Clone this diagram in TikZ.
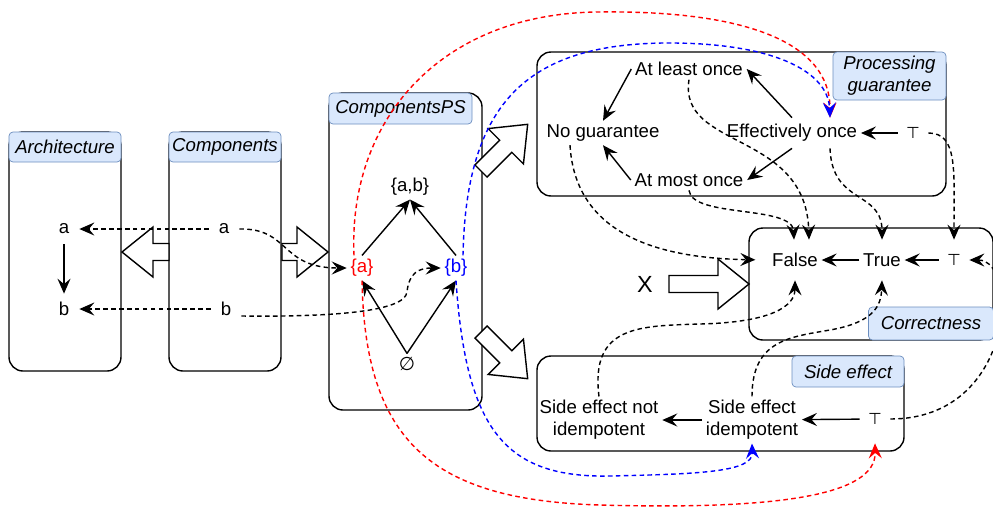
\documentclass[tikz,border=0pt]{standalone}
\usepackage{fontspec}
\setmainfont{Liberation Sans}
\newfontfamily\symfont{DejaVu Sans}
\usetikzlibrary{arrows.meta}

\definecolor{titlefill}{HTML}{DAE8FC}
\definecolor{titleline}{HTML}{6C8EBF}
\newcommand{\topsym}{{\symfont\fontsize{9}{10}\selectfont ⊤}}

\begin{document}
\begin{tikzpicture}[x=0.2mm, y=-0.2mm,
            lbl/.style={inner sep=2pt, align=center, font=\fontsize{10.6}{12.5}\selectfont},
            topnode/.style={lbl, minimum width=6mm},
            titlebox/.style={draw=titleline, fill=titlefill, rounded corners=0.8mm, inner sep=0pt, align=center, font=\fontsize{10.6}{12.5}\selectfont\itshape},
            container/.style={draw, rounded corners=2.8mm, line width=0.8pt},
            arr/.style={-{Stealth[length=3mm, width=2.6mm, inset=1.1mm]}, line width=0.8pt},
            dasharr/.style={arr, dash pattern=on 2.6pt off 1.9pt},
            pics/bigarrow/.style={code={
                \draw[line width=0.8pt, fill=white] (0,-8.5) -- (#1,-8.5) -- (#1,-25) -- (#1+31,0) -- (#1,25) -- (#1,8.5) -- (0,8.5) -- cycle;
            }},
        ]
        \useasboundingbox (0,0) rectangle (993,507);

        %Boxes
        \draw[container] (9,132) rectangle (121,371);
        \draw[container] (169,132) rectangle (281,371);
        \draw[container] (329,93) rectangle (482,410);
        \draw[container] (537,52) rectangle (946,196);
        \draw[container] (749,228) rectangle (993,340);
        \draw[container] (537,356) rectangle (904,451);

        %Big arrows
        \pic[rotate=180] at (169,252) {bigarrow=16};
        \pic at (282,252) {bigarrow=15};
        \pic[rotate=45] at (481,171) {bigarrow=35};
        \pic[rotate=-45] at (481,332) {bigarrow=35};
        \pic at (669,284) {bigarrow=49};

        %Titles
        \node[titlebox, minimum width=22.4mm, minimum height=6mm] (archtitle) at (65,147) {Architecture};
        \node[titlebox, minimum width=22.4mm, minimum height=6mm] (comptitle) at (225,147) {Components};
        \node[titlebox, minimum width=28.6mm, minimum height=6.2mm] (pstitle) at (400.5,108.5) {ComponentsPS};
        \node[titlebox, minimum width=22.6mm, minimum height=9.6mm] (pgtitle) at (889.5,76) {Processing\\guarantee};
        \node[titlebox, minimum width=25mm, minimum height=6.6mm] (ctitle) at (931,323.5) {Correctness};
        \node[titlebox, minimum width=22.4mm, minimum height=6.2mm] (setitle) at (848,371.5) {Side effect};

        %Nodes
        \node[lbl, minimum width=6mm, minimum height=6mm] (archa) at (64,229) {a};
        \node[lbl, minimum width=6mm, minimum height=6mm] (archb) at (64,309) {b};
        \node[lbl, minimum width=6mm, minimum height=6mm] (compa) at (224,229) {a};
        \node[lbl, minimum width=6mm, minimum height=6mm] (compb) at (226,309) {b};

        \node[lbl, text=red]  (psa)     at (362,268) {\{a\}};
        \node[lbl, text=blue] (psb)     at (456,268) {\{b\}};
        \node[lbl]            (psab)    at (410,187) {\{a,b\}};
        \node[lbl]            (psempty) at (407,364) {\symfont ∅};

        \node[lbl]                      (atleast) at (689,69)  {At least once};
        \node[lbl]                      (noguar)  at (603,133) {No guarantee};
        \node[lbl, minimum height=6mm]  (effonce) at (792,133) {Effectively once};
        \node[lbl]                      (atmost)  at (689,180) {At most once};
        \node[topnode]                  (pgtop)   at (913,133) {\topsym};

        \node[lbl, minimum height=8mm]     (cfalse) at (795,260) {False};
        \node[lbl, minimum height=8mm]     (ctrue)  at (882,260) {True};
        \node[topnode, minimum height=8mm] (ctop)   at (954,260) {\topsym};

        \node[lbl]                           (senot) at (599,420) {Side effect not\\idempotent};
        \node[lbl]                           (seid)  at (752,420) {Side effect\\idempotent};
        \node[topnode, minimum height=9.6mm] (setop) at (875,419) {\topsym};

        \node[lbl, font=\fontsize{13.3}{16}\selectfont] (xlabel) at (645,284) {X};

        %Lines
        \draw[arr] (archa) -- (archb);
        \draw[dasharr] (compa) -- (archa);
        \draw[dasharr] (compb) -- (archb);
        \draw[dasharr] (compa.east) .. controls (290,228) and (280,268) .. (psa.west);
        \draw[dasharr] ([yshift=-1.4mm]compb.east) .. controls (330,317) and (405,312) .. (407,292) .. controls (409,272) and (420,268) .. (psb.west);

        \draw[arr] (psa.north) -- (psab.south);
        \draw[arr] (psb.north) -- (psab.south);
        \draw[arr] (psempty.north) -- (psa.south);
        \draw[arr] (psempty.north) -- (psb.south);

        \draw[arr] (atleast.west) -- (noguar.north);
        \draw[arr] (effonce.north) -- (atleast.east);
        \draw[arr] (effonce.south) -- (atmost.east);
        \draw[arr] (atmost.west) -- (noguar.south);
        \draw[arr] (pgtop) -- (effonce);

        \draw[arr] (ctrue) -- (cfalse);
        \draw[arr] (ctop) -- (ctrue);
        \draw[arr] (seid) -- (senot);
        \draw[arr] (setop) -- (seid);

        \draw[dasharr] (atleast.south) .. controls (678,150) and (806,130) .. ([xshift=2.8mm]cfalse.north);
        \draw[dasharr] (atmost.south) .. controls (692,218) and (792,205) .. ([xshift=-0.2mm]cfalse.north);
        \draw[dasharr, shorten >=2.6mm] ([xshift=-6.6mm]noguar.south) .. controls (575,230) and (650,258) .. (cfalse.west);
        \draw[dasharr] ([xshift=7.6mm]effonce.south) .. controls (832,205) and (882,190) .. (ctrue.north);
        \draw[dasharr] (pgtop.east) .. controls (958,133) and (954,170) .. (ctop.north);
        \draw[dasharr] (setop.east) .. controls (1015,419) and (1020,260) .. (ctop.east);
        \draw[dasharr] (senot.north) .. controls (590,325) and (640,326) .. (700,324) .. controls (785,322) and (795,300) .. (cfalse.south);
        \draw[dasharr] (seid.north) .. controls (752,340) and (790,337) .. (830,330) .. controls (875,322) and (881,305) .. (ctrue.south);

        \draw[dasharr, red] ([xshift=-1.6mm]psa.north) .. controls (348,120) and (440,14) .. (597,12) .. controls (740,10) and (830,40) .. ([xshift=7.6mm]effonce.north);
        \draw[dasharr, red] (psa.south) .. controls (365,440) and (430,500) .. (600,505) .. controls (780,510) and (876,495) .. (setop.south);
        \draw[dasharr, blue] ([xshift=1.4mm]psb.north) .. controls (466,100) and (530,45) .. (663,43) .. controls (770,42) and (828,70) .. ([xshift=7.6mm]effonce.north);
        \draw[dasharr, blue] (psb.south) .. controls (466,430) and (505,478) .. (610,476) .. controls (700,474) and (753,472) .. (seid.south);
    \end{tikzpicture}
\end{document}
